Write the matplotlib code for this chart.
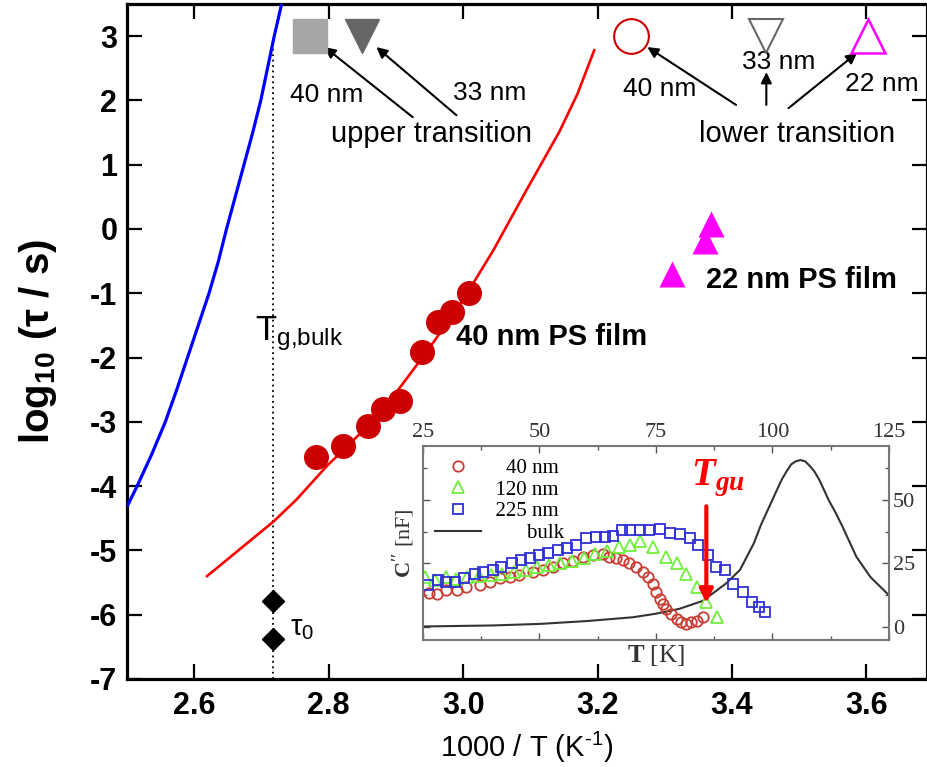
import matplotlib
matplotlib.use('Agg')
import matplotlib.pyplot as plt
from matplotlib.ticker import MultipleLocator, FixedLocator

plt.rcParams['font.family'] = ['Liberation Sans', 'DejaVu Sans']
plt.rcParams['mathtext.default'] = 'regular'
plt.rcParams['mathtext.fontset'] = 'custom'
plt.rcParams['mathtext.rm'] = 'Liberation Serif'
plt.rcParams['mathtext.bf'] = 'Liberation Serif:bold'
plt.rcParams['mathtext.it'] = 'Liberation Serif:italic'
plt.rcParams['axes.unicode_minus'] = False

# ---------------- main panel data ----------------
bulk_x = [2.501, 2.515, 2.537, 2.557, 2.574, 2.590, 2.606, 2.622, 2.636, 2.648,
          2.661, 2.674, 2.687, 2.699, 2.709, 2.719, 2.730]
bulk_y = [-4.3, -4.0, -3.5, -3.0, -2.5, -2.0, -1.5, -1.0, -0.5, 0.0,
          0.5, 1.0, 1.5, 2.0, 2.5, 3.0, 3.5]

fit40_x = [2.619, 2.718, 2.752, 2.797, 2.850, 2.900, 2.950, 3.000, 3.045,
           3.095, 3.143, 3.170, 3.195]
fit40_y = [-5.40, -4.55, -4.21, -3.69, -3.15, -2.55, -1.85, -1.10, -0.33,
           0.62, 1.51, 2.10, 2.78]

film40_x = [2.781, 2.822, 2.859, 2.881, 2.906, 2.939, 2.963, 2.984, 3.008]
film40_y = [-3.54, -3.37, -3.06, -2.80, -2.68, -1.92, -1.44, -1.29, -0.99]

film22_x = [3.369, 3.360, 3.311]
film22_y = [0.08, -0.19, -0.70]

tg_bulk = 2.717
tg_line_y = [-7.0, 3.0]
tau0_y = [-5.78, -6.38]

upper_x = [2.772, 2.849]          # 40 nm, 33 nm
upper_y = [3.0, 3.0]
lower_x = [3.250, 3.451, 3.602]   # 40 nm, 33 nm, 22 nm
lower_y = [3.0, 3.0, 3.0]

x_ticks = [2.6, 2.8, 3.0, 3.2, 3.4, 3.6]
x_ticklabels = ['2.6', '2.8', '3.0', '3.2', '3.4', '3.6']
y_ticks = [-7, -6, -5, -4, -3, -2, -1, 0, 1, 2, 3]

# ---------------- inset data ----------------
c40_T = [26.3, 27.9, 30.0, 32.2, 34.3, 37.2, 39.3, 41.5, 43.6, 45.7, 48.6, 50.8,
         52.9, 55.0, 57.2, 59.3, 61.5, 63.6, 65.0, 66.5, 67.9, 69.3, 70.8, 72.2,
         73.3, 74.4, 75.1, 75.8, 76.5, 77.2, 78.3, 79.4, 80.4, 81.5, 82.6, 83.7, 85.1]
c40_C = [13.4, 13.2, 14.5, 14.5, 15.8, 16.4, 17.8, 19.1, 19.7, 20.4, 21.7, 22.6,
         23.7, 25.0, 26.0, 27.6, 28.3, 28.7, 27.6, 27.0, 26.3, 25.0, 23.7, 21.7,
         19.7, 17.1, 13.8, 11.2, 9.2, 7.2, 5.3, 3.3, 2.0, 1.3, 2.0, 2.6, 3.9]

c120_T = [25.5, 27.5, 30.0, 32.0, 34.5, 37.0, 39.5, 42.0, 44.5, 47.0, 49.5, 52.0,
          54.5, 57.0, 59.5, 62.0, 64.5, 67.0, 69.4, 71.5, 74.4, 77.2, 79.4, 81.5,
          83.7, 85.8, 88.0]
c120_C = [19.7, 18.5, 19.7, 19.0, 19.5, 20.0, 20.5, 21.0, 21.8, 22.5, 23.5, 24.3,
          25.0, 26.0, 27.0, 28.5, 30.0, 31.6, 32.2, 33.8, 31.6, 27.6, 25.0, 21.0,
          15.8, 9.9, 3.9]

c225_T = [26.1, 28.2, 30.0, 31.8, 33.9, 36.1, 37.9, 40.0, 41.8, 44.0, 46.1, 47.9,
          50.0, 51.8, 54.0, 55.8, 57.9, 60.0, 62.2, 64.0, 65.8, 67.6, 69.4, 71.5,
          73.6, 75.8, 77.9, 80.1, 82.2, 84.0, 86.2, 87.9, 89.7, 91.5, 93.7, 95.5,
          97.2, 98.3]
c225_C = [16.4, 18.4, 17.8, 17.8, 19.1, 21.0, 21.7, 22.6, 23.7, 25.0, 26.3, 27.0,
          28.3, 29.2, 30.3, 31.2, 32.2, 34.9, 35.3, 35.5, 35.8, 37.9, 37.9, 37.9,
          37.9, 38.4, 37.1, 36.6, 34.9, 32.2, 28.3, 23.7, 22.4, 17.1, 13.8, 9.9,
          7.9, 5.9]

cbulk_T = [25, 40, 50, 60, 70, 75, 80, 85, 90, 93, 96, 97.5, 99, 100.5, 102, 103,
           104, 105, 106, 107, 108, 109, 110, 111, 112, 113.5, 115, 118, 121, 125]
cbulk_C = [0.3, 0.7, 1.3, 2.4, 3.9, 5.3, 7.2, 10.3, 17.1, 22.4, 32.9, 40.0, 46.0,
           52.0, 57.9, 61.0, 63.8, 65.0, 65.5, 65.0, 63.2, 61.0, 57.9, 54.0, 50.0,
           45.0, 39.5, 27.6, 19.7, 12.5]

tgu_T = 85.8
tgu_C = [47.4, 9.5]

inset_xticks = [25, 50, 75, 100, 125]
inset_yticks = [0, 25, 50]

# ---------------- figure ----------------
fig = plt.figure(figsize=(9.28, 7.67), dpi=100)
ax = fig.add_axes([127 / 928, 1 - 679 / 767, 800 / 928, 675 / 767])

ax.plot(bulk_x, bulk_y, color='#0000ff', lw=2.3, zorder=3)
ax.plot(fit40_x, fit40_y, color='#ff0000', lw=1.9, zorder=3)
ax.plot(film40_x, film40_y, ls='none', marker='o', ms=17, color='#cc0000', zorder=4)
ax.plot(film22_x, film22_y, ls='none', marker='^', ms=19, color='#ff00ff', mec='none', zorder=4)
ax.plot([tg_bulk, tg_bulk], tg_line_y, color='black', lw=1.3, ls=(0, (1, 2)), zorder=2)
ax.plot([tg_bulk] * len(tau0_y), tau0_y, ls='none', marker='D', ms=11, color='black', zorder=4)

ax.plot(upper_x[0], upper_y[0], marker='s', ms=24, color='#a6a6a6', ls='none', zorder=4)
ax.plot(upper_x[1], upper_y[1], marker='v', ms=24, color='#666666', ls='none', zorder=4)
ax.plot(lower_x[0], lower_y[0], marker='o', ms=25, mfc='none', mec='#cc0000', mew=1.5, ls='none', zorder=4)
ax.plot(lower_x[1], lower_y[1], marker='v', ms=25, mfc='none', mec='#666666', mew=1.5, ls='none', zorder=4)
ax.plot(lower_x[2], lower_y[2], marker='^', ms=25, mfc='none', mec='#ff00ff', mew=1.8, ls='none', zorder=4)

ap = dict(arrowstyle='-|>', color='black', lw=1.5, mutation_scale=16, shrinkA=0, shrinkB=0)
ax.annotate('', xy=(2.794, 2.83), xytext=(2.925, 1.74), arrowprops=ap)
ax.annotate('', xy=(2.871, 2.83), xytext=(2.990, 1.77), arrowprops=ap)
ax.annotate('', xy=(3.274, 2.83), xytext=(3.406, 1.93), arrowprops=ap)
ax.annotate('', xy=(3.451, 2.44), xytext=(3.451, 1.93), arrowprops=ap)
ax.annotate('', xy=(3.586, 2.74), xytext=(3.484, 1.88), arrowprops=ap)

tk = dict(ha='center', va='center', color='black')
ax.text(2.797, 2.08, '40 nm', fontsize=19, **tk)
ax.text(3.039, 2.12, '33 nm', fontsize=19, **tk)
ax.text(2.953, 1.48, 'upper transition', fontsize=21, **tk)
ax.text(3.293, 2.18, '40 nm', fontsize=19, **tk)
ax.text(3.470, 2.60, '33 nm', fontsize=19, **tk)
ax.text(3.623, 2.26, '22 nm', fontsize=19, **tk)
ax.text(3.496, 1.48, 'lower transition', fontsize=21, **tk)
ax.text(2.990, -1.68, '40 nm PS film', fontsize=21, fontweight='bold', ha='left', va='center')
ax.text(3.361, -0.79, '22 nm PS film', fontsize=21, fontweight='bold', ha='left', va='center')
ax.text(2.690, -1.62, 'T$_{g{,}bulk}$', fontsize=25, ha='left', va='center')
ax.text(2.742, -6.20, 'τ$_0$', fontsize=21, ha='left', va='center')

ax.set_xlim(2.5, 3.69)
ax.set_ylim(-7, 3.5)
ax.xaxis.set_major_locator(FixedLocator(x_ticks))
ax.set_xticklabels(x_ticklabels)
ax.yaxis.set_major_locator(FixedLocator(y_ticks))
ax.tick_params(direction='in', length=11, width=1.6, top=True, right=True,
               labelsize=22, pad=9)
ax.tick_params(axis='y', pad=7)
for lab in ax.get_xticklabels() + ax.get_yticklabels():
    lab.set_fontweight('bold')
for sp in ax.spines.values():
    sp.set_linewidth(2.3)
ax.set_xlabel('1000 / T (K$^{\u2010 1}$)', fontsize=21, labelpad=6)
ax.set_ylabel('log$_{10}$ (τ / s)', fontsize=29, fontweight='bold', labelpad=22)

# ---------------- inset ----------------
ax2 = fig.add_axes([423 / 928, 1 - 640 / 767, 466 / 928, 194 / 767])
ax2.set_facecolor('white')
ax2.set_zorder(5)
ax2.plot(cbulk_T, cbulk_C, color='#333333', lw=1.5, label='        bulk')
ax2.plot(c40_T, c40_C, ls='none', marker='o', ms=7.5, mfc='none', mec='#c83c32', mew=1.3,
         label='    40 nm')
ax2.plot(c120_T, c120_C, ls='none', marker='^', ms=8, mfc='none', mec='#6ff03a', mew=1.3,
         label='  120 nm')
ax2.plot(c225_T, c225_C, ls='none', marker='s', ms=7.5, mfc='none', mec='#2f2fd8', mew=1.3,
         label='  225 nm')
ax2.annotate('', xy=(tgu_T, tgu_C[1]), xytext=(tgu_T, tgu_C[0]),
             arrowprops=dict(arrowstyle='-|>', color='#ff0000', lw=3, mutation_scale=20,
                             shrinkA=0, shrinkB=0))
ax2.text(82.6, 58.5, 'T$_{gu}$', color='#ff0000', fontsize=28, fontweight='bold',
         fontstyle='italic', family='Liberation Serif', ha='left', va='center')

h, l = ax2.get_legend_handles_labels()
order = [1, 2, 3, 0]
leg = ax2.legend([h[i] for i in order], [l[i] for i in order], loc='upper left',
                 frameon=False, prop={'family': 'Liberation Serif', 'size': 15},
                 handlelength=2.2, labelspacing=0.1, borderaxespad=0.3,
                 handletextpad=0.2, borderpad=0.3)

ax2.set_xlim(25, 125)
ax2.set_ylim(-5, 71)
ax2.xaxis.set_major_locator(FixedLocator(inset_xticks))
ax2.xaxis.set_minor_locator(MultipleLocator(12.5))
ax2.yaxis.set_major_locator(FixedLocator(inset_yticks))
ax2.yaxis.set_minor_locator(MultipleLocator(12.5))
ax2.tick_params(axis='x', which='both', direction='in', top=True, bottom=True,
                labeltop=True, labelbottom=False, colors='#555555', labelcolor='#333333')
ax2.tick_params(axis='y', which='both', direction='in', left=True, right=True,
                labelleft=False, labelright=True, colors='#555555', labelcolor='#333333')
ax2.tick_params(which='major', length=5, width=1, labelsize=16, pad=3)
ax2.tick_params(which='minor', length=3, width=1)
for lab in ax2.get_xticklabels() + ax2.get_yticklabels():
    lab.set_family('Liberation Serif')
for sp in ax2.spines.values():
    sp.set_color('#777777')
    sp.set_linewidth(1.5)
ax2.xaxis.set_label_position('bottom')
ax2.set_xlabel(r'$\mathbf{T}$ [K]', fontsize=18, family='Liberation Serif',
               color='#333333', labelpad=2)
ax2.set_ylabel(r"$\mathbf{C''}$ [nF]", fontsize=16, family='Liberation Serif',
               color='#333333', labelpad=4)

fig.savefig('out.png', dpi=100)
